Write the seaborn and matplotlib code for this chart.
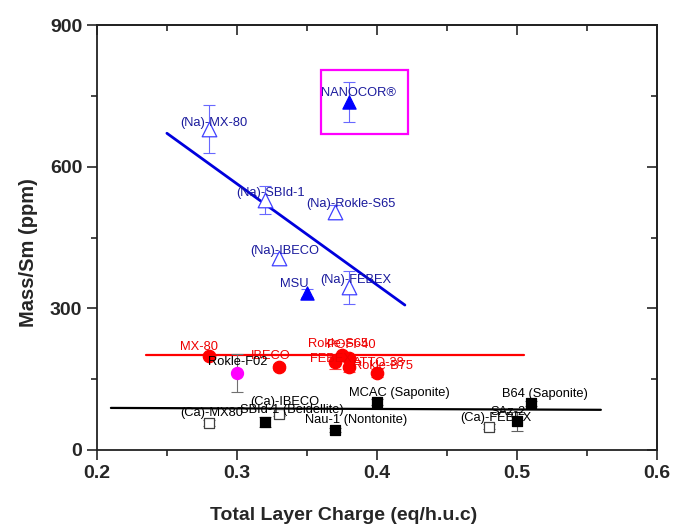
import seaborn as sns
import matplotlib.pyplot as plt
import pandas as pd
from matplotlib.patches import Rectangle
from matplotlib.ticker import MultipleLocator

# (Na) clays - open triangles
na_names = ["(Na)-MX-80", "(Na)-SBId-1", "(Na)-Rokle-S65", "(Na)-IBECO", "(Na)-FEBEX"]
na_x = [0.28, 0.32, 0.37, 0.33, 0.38]
na_y = [680, 530, 505, 407, 345]
na_err = [50, 30, 15, 10, 35]

# filled triangles
nf_names = ["MSU", "NANOCOR®"]
nf_x = [0.35, 0.38]
nf_y = [332, 737]
nf_err = [8, 42]

# red circles
red_names = ["MX-80", "IBECO", "Rokle-S65", "POFI-40", "FEBEX", "ATTO-38", "Rokle-B75"]
red_x = [0.28, 0.33, 0.375, 0.38, 0.37, 0.38, 0.40]
red_y = [200, 176, 201, 195, 186, 176, 163]
red_err = [5, 6, 5, 6, 14, 10, 8]

# magenta
mg_names = ["Rokle-F02"]
mg_x = [0.30]
mg_y = [163]
mg_err = [40]

# black filled squares
bk_names = ["SBId-1 (Beidellite)", "Nau-1 (Nontonite)", "MCAC (Saponite)", "B64 (Saponite)", "SAz-2"]
bk_x = [0.32, 0.37, 0.40, 0.51, 0.50]
bk_y = [59, 42, 101, 99, 61]
bk_err = [10, 4, 6, 5, 20]

# black open squares
ca_names = ["(Ca)-MX80", "(Ca)-IBECO", "(Ca)-FEBEX"]
ca_x = [0.28, 0.33, 0.48]
ca_y = [57, 76, 49]
ca_err = [6, 5, 5]

# fit lines
blue_fit_x = [0.25, 0.42]
blue_fit_y = [671, 307]
red_fit_x = [0.235, 0.505]
red_fit_y = [201, 201]
black_fit_x = [0.21, 0.56]
black_fit_y = [89, 85]

# highlight box (x0, x1, y0, y1)
box = [0.36, 0.422, 669, 805]

# label offsets in pixels
na_off = [(5, 6), (6, 7), (16, 8), (6, 7), (7, 7)]
nf_off = [(-13, 9), (10, 9)]
red_off = [(-10, 9), (-8, 11), (-4, 11), (2, 13), (-4, 3), (30, 4), (6, 7)]
mg_off = [(1, 11)]
bk_off = [(27, 12), (21, 10), (22, 9), (14, 9), (-9, 9)]
ca_off = [(3, 10), (6, 12), (7, 9)]

sns.set_style("ticks")
plt.rcParams["font.family"] = ["Liberation Sans", "DejaVu Sans"]

fig = plt.figure(figsize=(6.73, 5.25), dpi=100)
ax = fig.add_axes([0.144, 0.143, 0.832, 0.809])

blue_txt = "#1a1a9c"

def group(xs, ys, errs, names, offs, marker, face, edge, ecolor, tcolor, size):
    ax.errorbar(xs, ys, yerr=errs, fmt="none", ecolor=ecolor, elinewidth=0.8,
                capsize=4.5, capthick=0.8, zorder=2)
    df = pd.DataFrame({"x": xs, "y": ys})
    sns.scatterplot(data=df, x="x", y="y", ax=ax, marker=marker, s=size,
                    color=face, edgecolor=edge, linewidth=0.9, zorder=3, legend=False)
    for n, x, y, o in zip(names, xs, ys, offs):
        ax.annotate(n, (x, y), xytext=o, textcoords="offset pixels",
                    ha="center", va="center", fontsize=9.3, color=tcolor, zorder=4)

sns.lineplot(x=blue_fit_x, y=blue_fit_y, ax=ax, color="#0000dd", linewidth=2, zorder=1)
sns.lineplot(x=red_fit_x, y=red_fit_y, ax=ax, color="#ff0000", linewidth=1.6, zorder=1)
sns.lineplot(x=black_fit_x, y=black_fit_y, ax=ax, color="black", linewidth=1.6, zorder=1)

group(na_x, na_y, na_err, na_names, na_off, "^", "white", "#4040ff", "#6868ff", blue_txt, 110)
group(nf_x, nf_y, nf_err, nf_names, nf_off, "^", "#0000ff", "#0000ff", "#6868ff", blue_txt, 90)
group(red_x, red_y, red_err, red_names, red_off, "o", "#ff0000", "#ff0000", "#ff4040", "#ee0000", 80)
group(mg_x, mg_y, mg_err, mg_names, mg_off, "o", "#ff00ff", "#ff00ff", "#707070", "black", 75)
group(bk_x, bk_y, bk_err, bk_names, bk_off, "s", "black", "black", "#606060", "black", 60)
group(ca_x, ca_y, ca_err, ca_names, ca_off, "s", "white", "#404040", "#606060", "black", 60)

ax.add_patch(Rectangle((box[0], box[2]), box[1] - box[0], box[3] - box[2],
                       fill=False, edgecolor="#ff00ff", linewidth=1.6, zorder=5))

ax.set_xlim(0.2, 0.6)
ax.set_ylim(0, 900)
ax.xaxis.set_major_locator(MultipleLocator(0.1))
ax.xaxis.set_minor_locator(MultipleLocator(0.05))
ax.yaxis.set_major_locator(MultipleLocator(300))
ax.yaxis.set_minor_locator(MultipleLocator(150))
ax.xaxis.set_major_formatter(plt.FuncFormatter(lambda v, p: f"{v:.1f}"))
ax.tick_params(which="major", length=7, width=1.2, labelsize=14, direction="out")
ax.tick_params(which="minor", length=4, width=1.2, direction="out")
for lab in ax.get_xticklabels() + ax.get_yticklabels():
    lab.set_fontweight("bold")

# mirrored inward ticks on top and right
top = ax.secondary_xaxis("top")
top.xaxis.set_major_locator(MultipleLocator(0.1))
top.xaxis.set_minor_locator(MultipleLocator(0.05))
top.tick_params(which="major", direction="in", length=7, width=1.2, labeltop=False)
top.tick_params(which="minor", direction="in", length=4, width=1.2)
right = ax.secondary_yaxis("right")
right.yaxis.set_major_locator(MultipleLocator(300))
right.yaxis.set_minor_locator(MultipleLocator(150))
right.tick_params(which="major", direction="in", length=7, width=1.2, labelright=False)
right.tick_params(which="minor", direction="in", length=4, width=1.2)
for a in (ax, top, right):
    for sp in a.spines.values():
        sp.set_linewidth(1.3)
        sp.set_color("#222222")

ax.set_xlabel("Total Layer Charge (eq/h.u.c)", fontsize=14, fontweight="bold")
ax.set_ylabel("Mass/Sm (ppm)", fontsize=14.5, fontweight="bold")
ax.xaxis.set_label_coords(0.44, -0.135)
ax.yaxis.set_label_coords(-0.105, 0.465)

fig.savefig("out.png", dpi=100)
